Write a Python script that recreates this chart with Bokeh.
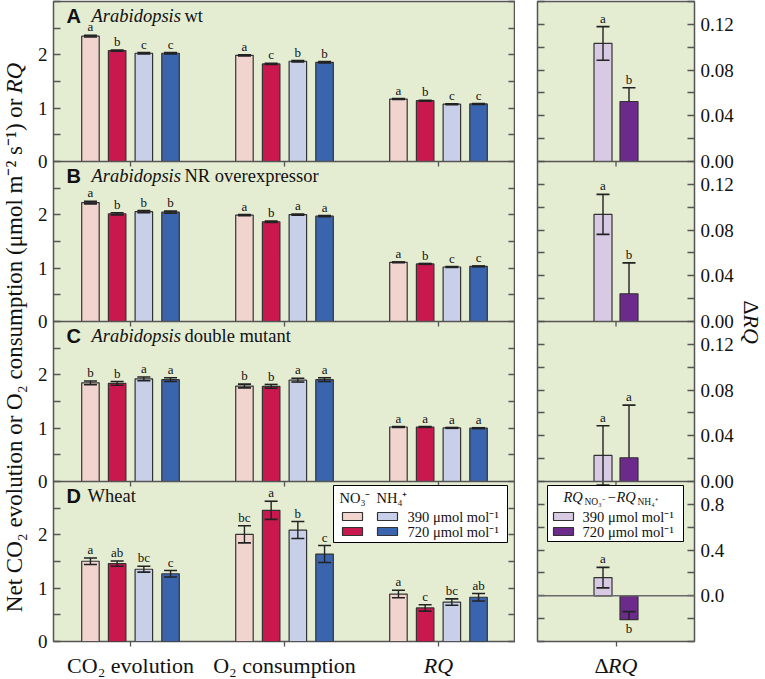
import math
from bokeh.plotting import figure
from bokeh.models import (Range1d, FixedTicker, LinearAxis, Span, Label,
                          BoxAnnotation, ColumnDataSource)
from bokeh.layouts import row, column
from bokeh.embed import file_html
from bokeh.resources import INLINE
from bokeh.core.properties import value

# ---------------- data ----------------
categories = ["CO₂ evolution", "O₂ consumption", "RQ"]
series_names = ["NO₃⁻ 390", "NO₃⁻ 720", "NH₄⁺ 390", "NH₄⁺ 720"]
panel_names = ["A", "B", "C", "D"]
co2_levels = ["390 μmol mol⁻¹", "720 μmol mol⁻¹"]

# Panel A  (Arabidopsis wt)
A_co2 = [2.35, 2.08, 2.03, 2.03]
A_co2_err = [0.015, 0.012, 0.012, 0.012]
A_o2 = [1.99, 1.83, 1.88, 1.86]
A_o2_err = [0.012, 0.012, 0.012, 0.012]
A_rq = [1.17, 1.14, 1.075, 1.08]
A_rq_err = [0.008, 0.008, 0.008, 0.008]
A_letters = [["a", "b", "c", "c"], ["a", "c", "b", "b"], ["a", "b", "c", "c"]]

# Panel B  (NR overexpressor)
B_co2 = [2.23, 2.02, 2.06, 2.05]
B_co2_err = [0.025, 0.02, 0.02, 0.02]
B_o2 = [1.995, 1.87, 2.005, 1.975]
B_o2_err = [0.012, 0.012, 0.012, 0.012]
B_rq = [1.11, 1.08, 1.022, 1.034]
B_rq_err = [0.008, 0.008, 0.008, 0.008]
B_letters = [["a", "b", "b", "b"], ["a", "b", "a", "a"], ["a", "b", "c", "c"]]

# Panel C  (double mutant)
C_co2 = [1.85, 1.84, 1.925, 1.91]
C_co2_err = [0.035, 0.035, 0.035, 0.035]
C_o2 = [1.79, 1.785, 1.90, 1.91]
C_o2_err = [0.035, 0.035, 0.035, 0.035]
C_rq = [1.022, 1.022, 1.005, 1.0]
C_rq_err = [0.008, 0.008, 0.008, 0.008]
C_letters = [["b", "b", "a", "a"], ["b", "b", "a", "a"], ["a", "a", "a", "a"]]

# Panel D  (Wheat)
D_co2 = [1.505, 1.46, 1.355, 1.27]
D_co2_err = [0.06, 0.05, 0.055, 0.06]
D_o2 = [2.01, 2.46, 2.09, 1.64]
D_o2_err = [0.16, 0.17, 0.16, 0.16]
D_rq = [0.89, 0.63, 0.74, 0.83]
D_rq_err = [0.07, 0.06, 0.06, 0.07]
D_letters = [["a", "ab", "bc", "c"], ["bc", "a", "b", "c"], ["a", "c", "bc", "ab"]]

# Delta RQ (RQ_NO3 - RQ_NH4) at 390 / 720
dRQ_A = [0.1033, 0.0525]
dRQ_A_err = [0.0147, 0.012]
dRQ_B = [0.0937, 0.0243]
dRQ_B_err = [0.0175, 0.027]
dRQ_C = [0.0228, 0.0208]
dRQ_C_err = [0.026, 0.046]
dRQ_D = [0.159, -0.209]
dRQ_D_err = [0.09, 0.07]
dRQ_letters = {"A": ["a", "b"], "B": ["a", "b"], "C": ["a", "a"], "D": ["a", "b"]}

titles = {"A": ("A", "Arabidopsis", "wt"),
          "B": ("B", "Arabidopsis", "NR overexpressor"),
          "C": ("C", "Arabidopsis", "double mutant"),
          "D": ("D", "", "Wheat")}

left_vals = {"A": ([A_co2, A_o2, A_rq], [A_co2_err, A_o2_err, A_rq_err], A_letters),
             "B": ([B_co2, B_o2, B_rq], [B_co2_err, B_o2_err, B_rq_err], B_letters),
             "C": ([C_co2, C_o2, C_rq], [C_co2_err, C_o2_err, C_rq_err], C_letters),
             "D": ([D_co2, D_o2, D_rq], [D_co2_err, D_o2_err, D_rq_err], D_letters)}
right_vals = {"A": (dRQ_A, dRQ_A_err), "B": (dRQ_B, dRQ_B_err),
              "C": (dRQ_C, dRQ_C_err), "D": (dRQ_D, dRQ_D_err)}

left_lim = {"A": (0, 3), "B": (0, 3), "C": (0, 3), "D": (0, 3)}
right_lim = {"A": (0, 0.14), "B": (0, 0.14), "C": (0, 0.14), "D": (-0.4, 1.0)}

ylabel_main = "Net CO₂ evolution or O₂ consumption (μmol m⁻² s⁻¹) or"
ylabel_ital = "RQ"

# ---------------- style / geometry ----------------
SERIF = "Liberation Serif"
SANS = "Liberation Sans"
BG = "#E4ECD2"
FRAME = "#555555"
TXT = "#111111"
bar_colors = ["#F2D4CF", "#C8184E", "#C7D0E8", "#3A64AD"]
dbar_colors = ["#D8CAE3", "#6C2A8B"]
BAR_LINE = "#333333"
ERR = "#222222"

YLW = 28          # width of the y-label strip
LBL = 25          # left border of left figure (tick labels)
LW = 462          # left frame width
RGAP = 22         # gap between frames
RW = 157          # right frame width
RBR = 44          # right border (tick labels)
RLW = 25          # right label strip
PH = 160
FH = PH * 4
TOP = 1
BOTB = 11         # bottom border of the panel figures (ticks + half tick label)
TICK_OUT = 5
STRIP = 26
TOTAL_H = TOP + FH + BOTB + STRIP
MID = 0.34        # distance (in em) from the text middle to the baseline

LET_FS = 13
CAT_FS = 22
YL_FS = 23
LEG_FS = 14.5
SUB_FS = 9.5


def px(v):
    return "%gpx" % v


def stacked_range(lo, hi, i):
    span = hi - lo
    return Range1d(start=lo - i * span, end=hi + (3 - i) * span)


def lx(p):
    return -0.5 + p * 3.0 / LW


def ly(p):
    return 24 - p * 24.0 / FH


def rx(p):
    return -0.5 + p * 1.0 / RW


def ry(p):
    return 28 - p * 28.0 / FH


def style_y(ax, ticks, overrides, show):
    ax.ticker = FixedTicker(ticks=ticks, minor_ticks=[])
    ax.major_label_overrides = overrides
    ax.major_tick_in = 7
    ax.major_tick_out = 0
    ax.minor_tick_in = 0
    ax.minor_tick_out = 0
    ax.major_tick_line_color = FRAME
    ax.major_tick_line_width = 1.3
    ax.axis_line_color = None
    if show:
        ax.major_label_text_font = SERIF
        ax.major_label_text_font_size = "19px"
        ax.major_label_text_color = TXT
        ax.major_label_standoff = 6
    else:
        ax.major_label_text_font_size = "0px"
        ax.major_label_standoff = 0


def style_x(ax, ticks):
    ax.ticker = FixedTicker(ticks=ticks, minor_ticks=[])
    ax.major_label_overrides = {t: "" for t in ticks}
    ax.major_tick_out = TICK_OUT
    ax.major_tick_in = 0
    ax.minor_tick_in = 0
    ax.minor_tick_out = 0
    ax.major_tick_line_color = FRAME
    ax.major_tick_line_width = 1.3
    ax.axis_line_color = None
    ax.major_label_text_font_size = "0px"
    ax.major_label_standoff = 0


def lab(fig, conv_x, conv_y, xpx, basepx, text, fs, style="normal", font=SERIF,
        align="left"):
    """Place a label whose baseline is at basepx (px from frame top)."""
    fig.add_layout(Label(x=conv_x(xpx), y=conv_y(basepx - MID * fs), text=text,
                         text_font=font, text_font_size=px(fs),
                         text_font_style=style, text_align=align,
                         text_baseline="middle", text_color=TXT))


def strip_fig(w, h, **kw):
    f = figure(frame_width=w, frame_height=h, output_backend="svg",
               toolbar_location=None, x_axis_location=None, y_axis_location=None,
               outline_line_color=None, background_fill_color="white",
               border_fill_color="white", min_border_top=0, min_border_bottom=0,
               **kw)
    f.grid.visible = False
    return f


order = ["D", "C", "B", "A"]  # bottom to top

# ================= left figure =================
L = figure(frame_width=LW, frame_height=FH, x_range=Range1d(-0.5, 2.5),
           y_range=Range1d(0, 24), output_backend="svg", toolbar_location=None,
           min_border_left=LBL, min_border_right=0, min_border_top=TOP,
           min_border_bottom=BOTB, background_fill_color=BG,
           border_fill_color="white", outline_line_color=FRAME,
           outline_line_width=1.5)
L.grid.visible = False
L.extra_y_ranges = {n: stacked_range(*left_lim[n], i) for i, n in enumerate(order)}

lticks = list(range(25))
lover = {}
for m in lticks:
    i = min(m // 6, 3)
    v = (m - 6 * i) * 0.5
    lover[m] = str(int(v)) if (m < 24 and v in (0, 1, 2)) else ""
style_y(L.yaxis[0], lticks, lover, True)
L.add_layout(LinearAxis(), "right")
style_y(L.yaxis[1], lticks, {m: "" for m in lticks}, False)
cat_idx = list(range(len(categories)))
style_x(L.xaxis[0], cat_idx)

SP = 26.7 * 3.0 / LW
BW = 17.5 * 3.0 / LW
CAP = 13 * 3.0 / LW
offs = [-1.5, -0.5, 0.5, 1.5]
LET_UP = -(4 + MID * LET_FS)

for n in panel_names:
    vals, errs, lets = left_vals[n]
    d = dict(x=[], top=[], color=[], lo=[], hi=[], xl=[], xr=[], let=[])
    for ci in range(len(categories)):
        for si in range(len(series_names)):
            x = ci + offs[si] * SP
            v = vals[ci][si]
            e = errs[ci][si]
            d["x"].append(x)
            d["top"].append(v)
            d["color"].append(bar_colors[si])
            d["lo"].append(v - e)
            d["hi"].append(v + e)
            d["xl"].append(x - CAP / 2)
            d["xr"].append(x + CAP / 2)
            d["let"].append(lets[ci][si])
    src = ColumnDataSource(d)
    L.vbar(x="x", top="top", bottom=0, width=BW, fill_color="color",
           line_color=BAR_LINE, line_width=1.2, source=src, y_range_name=n)
    L.segment(x0="x", y0="lo", x1="x", y1="hi", line_color=ERR, line_width=1.4,
              source=src, y_range_name=n)
    L.segment(x0="xl", y0="hi", x1="xr", y1="hi", line_color=ERR, line_width=1.6,
              source=src, y_range_name=n)
    L.segment(x0="xl", y0="lo", x1="xr", y1="lo", line_color=ERR, line_width=1.6,
              source=src, y_range_name=n)
    L.text(x="x", y="hi", text="let", y_offset=LET_UP, text_align="center",
           text_baseline="middle", text_font=value(SERIF),
           text_font_size=value(px(LET_FS)), text_color=TXT, source=src,
           y_range_name=n)

# panel boundaries and their tick marks
for b in (6, 12, 18):
    L.add_layout(Span(location=b, dimension="width", line_color=FRAME, line_width=1.5))
    L.segment(x0=cat_idx, y0=[b] * len(cat_idx), x1=cat_idx,
              y1=[b - TICK_OUT * 24.0 / FH] * len(cat_idx),
              line_color=FRAME, line_width=1.3)

# panel titles
for k, n in enumerate(panel_names):
    letter, ital, rest = titles[n]
    base = k * PH + 21
    lab(L, lx, ly, 13, base, letter, 20, "bold", SANS)
    if ital:
        lab(L, lx, ly, 38, base, ital, 18.5, "italic")
        lab(L, lx, ly, 131, base, rest, 18.5)
    else:
        lab(L, lx, ly, 34, base, rest, 18.5)

# left legend
bl, bt = 280, 3 * PH + 4
L.add_layout(BoxAnnotation(left=lx(bl), right=lx(bl + 174), top=ly(bt), bottom=ly(bt + 57),
                           fill_color="white", fill_alpha=1, line_color="#000000",
                           line_alpha=1, line_width=1))
lab(L, lx, ly, bl + 6, bt + 17, "NO₃⁻", LEG_FS)
lab(L, lx, ly, bl + 43, bt + 17, "NH₄⁺", LEG_FS)
for r in range(2):
    y0 = bt + 27 + r * 15
    for c in range(2):
        x0 = bl + 9 + c * 35
        L.add_layout(BoxAnnotation(left=lx(x0), right=lx(x0 + 20), top=ly(y0),
                                   bottom=ly(y0 + 8), fill_color=bar_colors[c * 2 + r],
                                   fill_alpha=1, line_color=BAR_LINE, line_alpha=1,
                                   line_width=1.2))
    lab(L, lx, ly, bl + 74, bt + 36 + r * 15, co2_levels[r], LEG_FS)

# ================= right figure =================
R = figure(frame_width=RW, frame_height=FH, x_range=Range1d(-0.5, 0.5),
           y_range=Range1d(0, 28), output_backend="svg", toolbar_location=None,
           min_border_left=RGAP, min_border_right=RBR, min_border_top=TOP,
           min_border_bottom=BOTB, background_fill_color=BG,
           border_fill_color="white", outline_line_color=FRAME,
           outline_line_width=1.5)
R.grid.visible = False
R.extra_y_ranges = {n: stacked_range(*right_lim[n], i) for i, n in enumerate(order)}

rticks = list(range(29))
rover = {}
for m in rticks:
    i = min(m // 7, 3)
    lo_, hi_ = right_lim[order[i]]
    v = round(lo_ + (m - 7 * i) * (hi_ - lo_) / 7, 4)
    if abs(v) < 1e-9:
        v = 0.0
    if m == 28:
        rover[m] = ""
    elif order[i] == "D":
        rover[m] = "%.1f" % v if v in (0.0, 0.4, 0.8) else ""
    else:
        rover[m] = "%.2f" % v if v in (0.0, 0.04, 0.08, 0.12) else ""
style_y(R.yaxis[0], rticks, {m: "" for m in rticks}, False)
R.add_layout(LinearAxis(), "right")
style_y(R.yaxis[1], rticks, rover, True)
style_x(R.xaxis[0], [0])

RSP = 13.0 / RW
RBW = 18.0 / RW
RCAP = 13.0 / RW
for n in panel_names:
    vals, errs = right_vals[n]
    d = dict(x=[], top=[], color=[], lo=[], hi=[], xl=[], xr=[])
    for j in range(2):
        x = (-1 if j == 0 else 1) * RSP
        v, e = vals[j], errs[j]
        d["x"].append(x)
        d["top"].append(v)
        d["color"].append(dbar_colors[j])
        d["lo"].append(v - e if j == 0 else v)
        d["hi"].append(v + e)
        d["xl"].append(x - RCAP / 2)
        d["xr"].append(x + RCAP / 2)
    src = ColumnDataSource(d)
    R.vbar(x="x", top="top", bottom=0, width=RBW, fill_color="color",
           line_color=BAR_LINE, line_width=1.2, source=src, y_range_name=n)
    R.segment(x0="x", y0="lo", x1="x", y1="hi", line_color=ERR, line_width=1.4,
              source=src, y_range_name=n)
    R.segment(x0="xl", y0="hi", x1="xr", y1="hi", line_color=ERR, line_width=1.6,
              source=src, y_range_name=n)
    R.segment(x0=[d["xl"][0]], y0=[d["lo"][0]], x1=[d["xr"][0]], y1=[d["lo"][0]],
              line_color=ERR, line_width=1.6, y_range_name=n)
    up_x, up_y, up_t, dn_x, dn_y, dn_t = [], [], [], [], [], []
    for j in range(2):
        if vals[j] >= 0:
            up_x.append(d["x"][j]); up_y.append(d["hi"][j]); up_t.append(dRQ_letters[n][j])
        else:
            dn_x.append(d["x"][j]); dn_y.append(vals[j]); dn_t.append(dRQ_letters[n][j])
    R.text(x=up_x, y=up_y, text=up_t, y_offset=LET_UP, text_align="center",
           text_baseline="middle", text_font=value(SERIF),
           text_font_size=value(px(LET_FS)), text_color=TXT, y_range_name=n)
    if dn_x:
        R.text(x=dn_x, y=dn_y, text=dn_t, y_offset=13 - MID * LET_FS,
               text_align="center", text_baseline="middle", text_font=value(SERIF),
               text_font_size=value(px(LET_FS)), text_color=TXT, y_range_name=n)

for b in (7, 14, 21):
    R.add_layout(Span(location=b, dimension="width", line_color=FRAME, line_width=1.5))
    R.segment(x0=[0], y0=[b], x1=[0], y1=[b - TICK_OUT * 28.0 / FH],
              line_color=FRAME, line_width=1.3)
# zero line of panel D
dlo, dhi = right_lim["D"]
R.add_layout(Span(location=(0 - dlo) / (dhi - dlo) * 7, dimension="width",
                  line_color="#6a6a6a", line_width=1.5))

# right legend
rbl, rbt = 10, 3 * PH + 4
R.add_layout(BoxAnnotation(left=rx(rbl), right=rx(rbl + 136), top=ry(rbt),
                           bottom=ry(rbt + 56), fill_color="white", fill_alpha=1,
                           line_color="#000000", line_alpha=1, line_width=1))
lab(R, rx, ry, rbl + 16, rbt + 16, "RQ", LEG_FS, "italic")
lab(R, rx, ry, rbl + 37, rbt + 20, "NO₃⁻", SUB_FS)
lab(R, rx, ry, rbl + 60, rbt + 16, "−", LEG_FS)
lab(R, rx, ry, rbl + 69, rbt + 16, "RQ", LEG_FS, "italic")
lab(R, rx, ry, rbl + 90, rbt + 20, "NH₄⁺", SUB_FS)
for r in range(2):
    y0 = rbt + 27 + r * 15
    R.add_layout(BoxAnnotation(left=rx(rbl + 6), right=rx(rbl + 26), top=ry(y0),
                               bottom=ry(y0 + 8), fill_color=dbar_colors[r],
                               fill_alpha=1, line_color=BAR_LINE, line_alpha=1,
                               line_width=1.2))
    lab(R, rx, ry, rbl + 35, rbt + 36 + r * 15, co2_levels[r], LEG_FS)

# ================= text strips =================
CAT_MID_Y = 6 + MID * CAT_FS   # baseline 6px above the strip bottom

# y label strip (left)
YL = strip_fig(YLW, TOTAL_H, x_range=Range1d(0, YLW), y_range=Range1d(0, TOTAL_H),
               min_border_left=0, min_border_right=0)
YL.text(x=[14], y=[TOTAL_H - 98], text=[ylabel_main], angle=math.pi / 2,
        text_align="right", text_baseline="middle", text_font=value(SERIF),
        text_font_size=value(px(YL_FS)), text_color=TXT)
YL.text(x=[14], y=[TOTAL_H - 93], text=[ylabel_ital], angle=math.pi / 2,
        text_align="left", text_baseline="middle", text_font=value(SERIF),
        text_font_style="italic", text_font_size=value(px(YL_FS)), text_color=TXT)

# category strip under left figure
LS = strip_fig(LW, STRIP, x_range=L.x_range, y_range=Range1d(0, STRIP),
               min_border_left=LBL, min_border_right=0)
up_cats = [c for c in categories if c != "RQ"]
LS.text(x=[categories.index(c) for c in up_cats], y=[CAT_MID_Y] * len(up_cats),
        text=up_cats, text_align="center", text_baseline="middle",
        text_font=value(SERIF), text_font_size=value(px(CAT_FS)), text_color=TXT)
LS.text(x=[categories.index("RQ")], y=[CAT_MID_Y], text=["RQ"], text_align="center",
        text_baseline="middle", text_font=value(SERIF), text_font_style="italic",
        text_font_size=value(px(CAT_FS)), text_color=TXT)

# category strip under right figure
RS = strip_fig(RW, STRIP, x_range=R.x_range, y_range=Range1d(0, STRIP),
               min_border_left=RGAP, min_border_right=RBR)
RS.text(x=[0], y=[CAT_MID_Y], text=["Δ"], x_offset=-21.4, text_align="left",
        text_baseline="middle", text_font=value(SERIF),
        text_font_size=value(px(CAT_FS)), text_color=TXT)
RS.text(x=[0], y=[CAT_MID_Y], text=["RQ"], x_offset=-7.9, text_align="left",
        text_baseline="middle", text_font=value(SERIF), text_font_style="italic",
        text_font_size=value(px(CAT_FS)), text_color=TXT)

# ΔRQ label strip (right)
RL = strip_fig(RLW, TOTAL_H, x_range=Range1d(0, RLW), y_range=Range1d(0, TOTAL_H),
               min_border_left=0, min_border_right=0)
RL.text(x=[12.5], y=[TOTAL_H - 300], text=["Δ"], angle=-math.pi / 2, text_align="left",
        text_baseline="middle", text_font=value(SERIF),
        text_font_size=value(px(CAT_FS)), text_color=TXT)
RL.text(x=[12.5], y=[TOTAL_H - 314], text=["RQ"], angle=-math.pi / 2, text_align="left",
        text_baseline="middle", text_font=value(SERIF), text_font_style="italic",
        text_font_size=value(px(CAT_FS)), text_color=TXT)

layout = row(YL, column(L, LS), column(R, RS), RL)
open("out.html", "w").write(file_html(layout, INLINE))
